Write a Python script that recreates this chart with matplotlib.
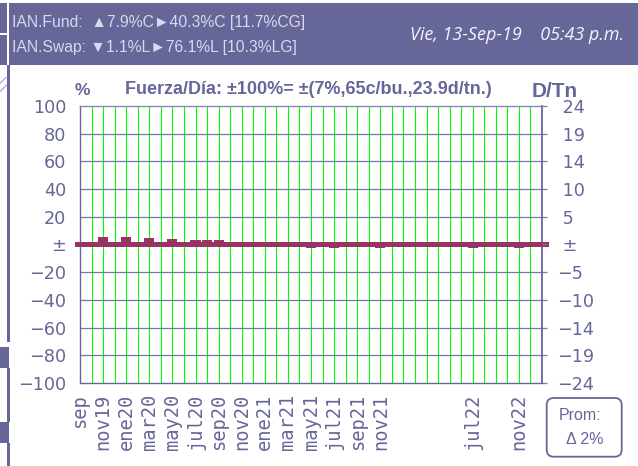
import matplotlib
matplotlib.use("Agg")
import matplotlib.pyplot as plt
from matplotlib.patches import Rectangle, FancyBboxPatch
import numpy as np

# ---------------- data ----------------
months = ['sep', 'oct19', 'nov19', 'dic19', 'ene20', 'feb20', 'mar20', 'abr20', 'may20', 'jun20',
          'jul20', 'ago20', 'sep20', 'oct20', 'nov20', 'dic20', 'ene21', 'feb21', 'mar21', 'abr21',
          'may21', 'jun21', 'jul21', 'ago21', 'sep21', 'oct21', 'nov21', 'dic21', 'ene22', 'feb22',
          'mar22', 'abr22', 'may22', 'jun22', 'jul22', 'ago22', 'sep22', 'oct22', 'nov22', 'dic22']
fuerza = [0, 0, 5.2, 0, 5.2, 0, 4.5, 0, 3.8, 0,
          3.0, 3.0, 3.0, 0, 0, 0, 0, 0, -1.0, 0,
          -2.5, 0, -2.5, 0, 0, 0, -2.5, 0, 0, 0,
          0, 0, 0, 0, -2.5, 0, 0, 0, -2.5, 0]
shown_labels = ['sep', 'nov19', 'ene20', 'mar20', 'may20', 'jul20', 'sep20', 'nov20', 'ene21',
                'mar21', 'may21', 'jul21', 'sep21', 'nov21', 'jul22', 'nov22']
left_ticks = [100, 80, 60, 40, 20, 0, -20, -40, -60, -80, -100]
left_labels = ['100', '80', '60', '40', '20', '±', '\u221220', '\u221240', '\u221260', '\u221280', '\u2212100']
right_labels = [' 24', ' 19', ' 14', ' 10', ' 5', ' ±', '\u22125', '\u221210', '\u221214', '\u221219', '\u221224']
title = 'Fuerza/Día: ±100%= ±(7%,65c/bu.,23.9d/tn.)'
fund_line = 'IAN.Fund:  ▲7.9%C►40.3%C [11.7%CG]'
swap_line = 'IAN.Swap: ▼1.1%L►76.1%L [10.3%LG]'
date_text = 'Vie, 13-Sep-19    05:43 p.m.'
prom_value = 2

PURPLE = '#666699'
MAROON = '#993366'
GREEN = '#00ff00'

W, H = 638, 466
fig = plt.figure(figsize=(W / 100, H / 100), dpi=100)

# background / decoration layer in pixel coordinates
bg = fig.add_axes([0, 0, 1, 1])
bg.set_xlim(0, W)
bg.set_ylim(H, 0)
bg.axis('off')
bg.set_zorder(-1)

bg.add_patch(Rectangle((9.3, 3.3), W - 9.3, 61.7, color=PURPLE, lw=0))
bg.add_patch(Rectangle((0, 3.3), 6.7, 29.7, color=PURPLE, lw=0))
bg.add_patch(Rectangle((0, 35), 6.7, 30, color=PURPLE, lw=0))
bg.add_patch(Rectangle((0, 77), 6.7, 15, facecolor='white', edgecolor='#b0b0e0', hatch='////', lw=0))
bg.add_patch(Rectangle((7.3, 65), 2.7, 277, color=PURPLE, lw=0))
bg.add_patch(Rectangle((0, 347), 9, 21, color=PURPLE, lw=0))
bg.add_patch(Rectangle((7.3, 368), 2.7, 54, color=PURPLE, lw=0))
bg.add_patch(Rectangle((0, 422), 9, 21, color=PURPLE, lw=0))
bg.add_patch(Rectangle((7.3, 443), 2.7, 23, color=PURPLE, lw=0))

bg.text(12, 22.5, fund_line, fontsize=11.3, color='#d8d8f0', family=['Liberation Sans', 'DejaVu Sans'],
        ha='left', va='center')
bg.text(12, 47.5, swap_line, fontsize=11.3, color='#d8d8f0', family=['Liberation Sans', 'DejaVu Sans'],
        ha='left', va='center')
bg.text(624, 35, date_text, fontsize=13, color='#f4f4ff', family='Open Sans', style='italic',
        ha='right', va='center')

bg.text(308, 90, title, fontsize=13, fontweight='bold', color=PURPLE, family='Liberation Sans',
        ha='center', va='center')
bg.text(82, 90.5, '%', fontsize=12.5, fontweight='bold', color=PURPLE, family='Liberation Sans',
        ha='center', va='center')
bg.text(555, 91.5, 'D/Tn', fontsize=15, fontweight='bold', color=PURPLE, family='Liberation Sans',
        ha='center', va='center')

bg.add_patch(FancyBboxPatch((546.7 + 7, 398 + 7), 75 - 14, 58.7 - 14,
                            boxstyle='round,pad=7', facecolor='white', edgecolor=PURPLE, lw=1.3))
bg.text(580, 416, 'Prom:', fontsize=11.5, color=PURPLE, family='Liberation Sans', ha='center', va='center')
bg.text(585, 439, f'\u0394 {prom_value}%', fontsize=11.5, color=PURPLE, family='Liberation Sans',
        ha='center', va='center')

# ---------------- main chart ----------------
ax = fig.add_axes([80 / W, 1 - 383 / H, (542 - 80) / W, (383 - 106) / H])
x = np.arange(len(months))
ax.set_xlim(0, len(months))
ax.set_ylim(-100, 100)

for xi in x[1:]:
    ax.axvline(xi, color=GREEN, lw=0.8, zorder=1)
for yv in left_ticks[1:-1]:
    if yv != 0:
        ax.axhline(yv, color='#7777aa', lw=0.9, zorder=1)

ax.axhline(0, xmin=-3 / 462, xmax=1 + 4 / 462, color=MAROON, lw=3.6, zorder=3, clip_on=False)
ax.bar(x, fuerza, width=0.87, color=MAROON, zorder=4)

pos = [months.index(m) for m in shown_labels]
ax.set_xticks(pos)
ax.set_xticklabels(shown_labels, rotation=90, family='DejaVu Sans Mono', fontsize=13.5,
                   color=PURPLE, va='top', ha='center')
ax.tick_params(axis='x', length=0, pad=8)

ax.set_yticks(left_ticks)
ax.set_yticklabels(left_labels, fontsize=12.7, color=PURPLE, family='DejaVu Sans')
ax.tick_params(axis='y', length=0, pad=10)

for s in ['left', 'bottom', 'right']:
    ax.spines[s].set_color(PURPLE)
ax.spines['top'].set_color('#8888bb')
ax.spines['left'].set_linewidth(1.0)
ax.spines['bottom'].set_linewidth(1.0)
ax.spines['right'].set_linewidth(1.3)
ax.spines['top'].set_linewidth(1.0)

ax2 = ax.twinx()
ax2.set_ylim(-100, 100)
ax2.set_yticks(left_ticks)
ax2.set_yticklabels(right_labels, fontsize=12.7, color=PURPLE, family='DejaVu Sans', ha='left')
ax2.tick_params(axis='y', length=3.6, width=0.9, color='#7777aa', pad=7)
for s in ax2.spines.values():
    s.set_visible(False)

fig.savefig('out.png', dpi=100)
